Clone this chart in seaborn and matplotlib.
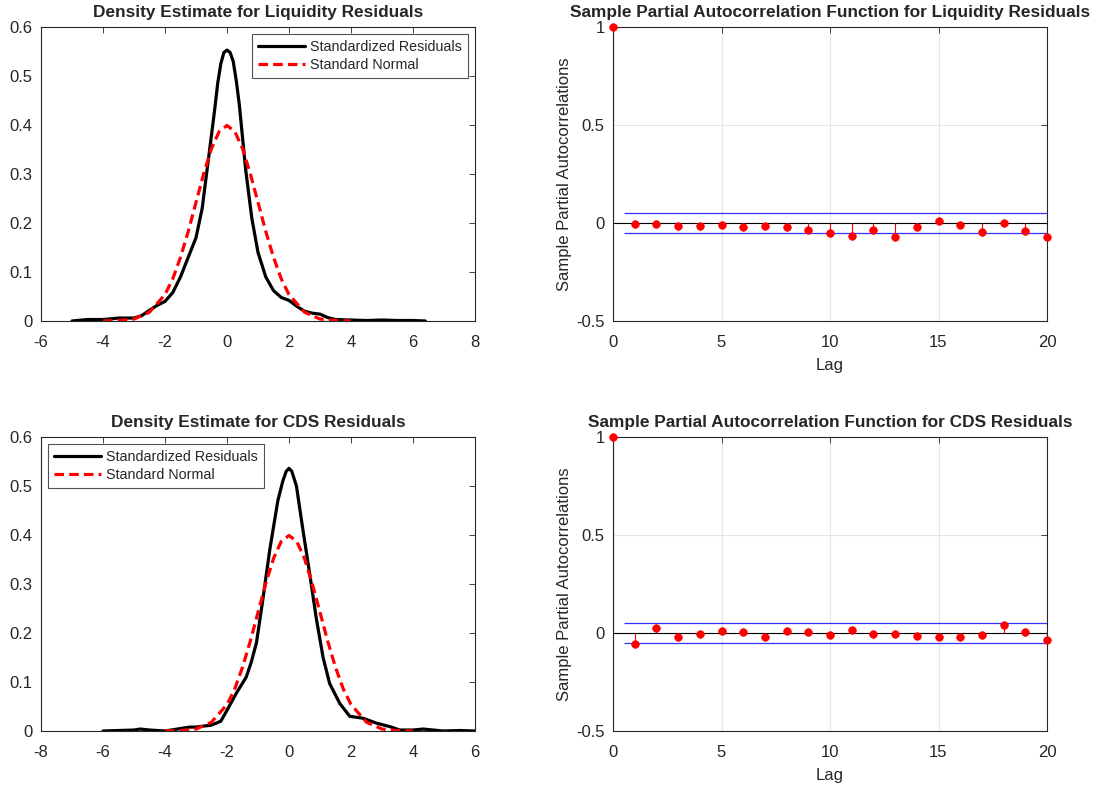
import numpy as np
import matplotlib
matplotlib.use("Agg")
import matplotlib.pyplot as plt
import seaborn as sns

# density estimate of liquidity residuals
liq_x = [-5.0, -4.5, -4.0, -3.5, -3.0, -2.75, -2.5, -2.25, -2.0, -1.75, -1.5, -1.25,
         -1.0, -0.8, -0.6, -0.4, -0.3, -0.2, -0.1, 0.0, 0.1, 0.2, 0.3, 0.4, 0.6, 0.8, 1.0,
         1.25, 1.5, 1.75, 2.0, 2.25, 2.5, 2.75, 3.0, 3.25, 3.5, 4.0, 4.5, 5.0,
         5.5, 6.0, 6.4]
liq_y = [0.0, 0.003, 0.003, 0.006, 0.006, 0.011, 0.022, 0.032, 0.040, 0.058, 0.090, 0.13,
         0.17, 0.23, 0.33, 0.43, 0.485, 0.525, 0.548, 0.553, 0.548, 0.53, 0.49, 0.44, 0.31, 0.21, 0.14,
         0.09, 0.062, 0.048, 0.042, 0.030, 0.020, 0.016, 0.014, 0.007, 0.003, 0.002, 0.001, 0.002,
         0.001, 0.001, 0.0]

# density estimate of CDS residuals
cds_x = [-6.0, -5.5, -5.0, -4.8, -4.5, -4.0, -3.5, -3.2, -3.0, -2.5, -2.2, -2.02, -1.7,
         -1.38, -1.22, -1.05, -0.84, -0.62, -0.36, -0.2, -0.09, 0.0, 0.09, 0.24, 0.45, 0.67,
         0.88, 1.1, 1.31, 1.64, 1.96, 2.39, 2.82, 3.25, 3.57, 4.0, 4.33, 4.97, 5.5, 6.0]
cds_y = [0.0, 0.001, 0.002, 0.004, 0.002, 0.0, 0.005, 0.008, 0.008, 0.012, 0.02, 0.04, 0.077,
         0.11, 0.14, 0.18, 0.27, 0.37, 0.47, 0.51, 0.53, 0.536, 0.53, 0.50, 0.41, 0.32,
         0.23, 0.15, 0.097, 0.056, 0.03, 0.026, 0.016, 0.009, 0.002, 0.002, 0.004, 0.0, 0.001, 0.0]

# standard normal reference curve
norm_x = [-4, -3.5, -3, -2.5, -2, -1.75, -1.5, -1.25, -1, -0.75, -0.5, -0.25, 0,
          0.25, 0.5, 0.75, 1, 1.25, 1.5, 1.75, 2, 2.5, 3, 3.5, 4]
norm_y = [0.000, 0.001, 0.004, 0.018, 0.054, 0.086, 0.130, 0.183, 0.242, 0.301, 0.352, 0.387, 0.399,
          0.387, 0.352, 0.301, 0.242, 0.183, 0.130, 0.086, 0.054, 0.018, 0.004, 0.001, 0.000]

# sample partial autocorrelations, lags 0..20
lags = list(range(21))
pacf_liq = [1.0, -0.005, -0.003, -0.014, -0.015, -0.012, -0.019, -0.017, -0.022, -0.034, -0.049,
            -0.068, -0.037, -0.071, -0.022, 0.010, -0.009, -0.044, 0.002, -0.041, -0.073]
pacf_cds = [1.0, -0.058, 0.024, -0.022, -0.003, 0.010, 0.003, -0.020, 0.012, 0.003, -0.009,
            0.017, -0.005, -0.003, -0.017, -0.019, -0.020, -0.009, 0.043, 0.005, -0.036]
bound = 0.05

sns.set_theme(style="white")
plt.rcParams['font.family'] = ['Liberation Sans', 'DejaVu Sans']
plt.rcParams['axes.unicode_minus'] = False
dark = "#262626"

fig = plt.figure(figsize=(11.03, 7.85), dpi=100)
W, H = 1103, 785
def place(l, t, r, b):
    return fig.add_axes([l / W, 1 - b / H, (r - l) / W, (b - t) / H])

ax1 = place(41, 27, 475, 321)
ax2 = place(613, 27, 1047, 321)
ax3 = place(41, 437, 475, 731)
ax4 = place(613, 437, 1047, 731)

def style(ax):
    for s in ax.spines.values():
        s.set_color(dark)
        s.set_linewidth(0.8)
    ax.tick_params(direction="in", top=True, right=True, length=4, width=0.6,
                   colors=dark, labelsize=12)
    ax.tick_params(axis="x", pad=10)
    ax.tick_params(axis="y", pad=6)

def density(ax, x, y, xlim, title, loc):
    sns.lineplot(x=x, y=y, ax=ax, color="black", lw=2.3, label="Standardized Residuals")
    sns.lineplot(x=norm_x, y=norm_y, ax=ax, color="red", lw=2.3,
                 linestyle=(0, (3, 1.6)), label="Standard Normal")
    ax.set_xlim(*xlim)
    ax.set_ylim(0, 0.6)
    ax.set_xticks(np.arange(xlim[0], xlim[1] + 1, 2))
    ax.set_yticks(np.arange(0, 0.61, 0.1))
    ax.set_yticklabels(["0", "0.1", "0.2", "0.3", "0.4", "0.5", "0.6"])
    ax.set_title(title, fontsize=12.4, fontweight="bold", pad=7)
    style(ax)
    leg = ax.legend(loc=loc, fontsize=10.3, frameon=True, fancybox=False,
                    handlelength=3.3, handletextpad=0.35, borderpad=0.4,
                    labelspacing=0.3, borderaxespad=0.5)
    leg.get_frame().set_edgecolor(dark)
    leg.get_frame().set_linewidth(0.8)

def pacf(ax, vals, title):
    ax.grid(True, color="#e6e6e6", lw=0.8)
    ax.set_axisbelow(True)
    ax.axhline(0, color="black", lw=0.8, zorder=1)
    ax.hlines([bound, -bound], 0.5, 20, color="blue", lw=0.9, alpha=0.8, zorder=1)
    ax.vlines(lags, 0, vals, color="red", lw=0.8, zorder=2)
    sns.scatterplot(x=lags, y=vals, ax=ax, color="red", s=30, edgecolor="red",
                    linewidth=0.5, zorder=3, clip_on=False)
    ax.set_xlim(0, 20)
    ax.set_ylim(-0.5, 1)
    ax.set_xticks([0, 5, 10, 15, 20])
    ax.set_yticks([-0.5, 0, 0.5, 1])
    ax.set_yticklabels(["-0.5", "0", "0.5", "1"])
    ax.set_xlabel("Lag", fontsize=12, color=dark, labelpad=6)
    ax.set_ylabel("Sample Partial Autocorrelations", fontsize=12, color=dark, labelpad=3)
    ax.set_title(title, fontsize=12.4, fontweight="bold", pad=7)
    style(ax)

density(ax1, liq_x, liq_y, (-6, 8), "Density Estimate for Liquidity Residuals", "upper right")
density(ax3, cds_x, cds_y, (-8, 6), "Density Estimate for CDS Residuals", "upper left")
pacf(ax2, pacf_liq, "Sample Partial Autocorrelation Function for Liquidity Residuals")
pacf(ax4, pacf_cds, "Sample Partial Autocorrelation Function for CDS Residuals")

fig.savefig("out.png", dpi=100)
